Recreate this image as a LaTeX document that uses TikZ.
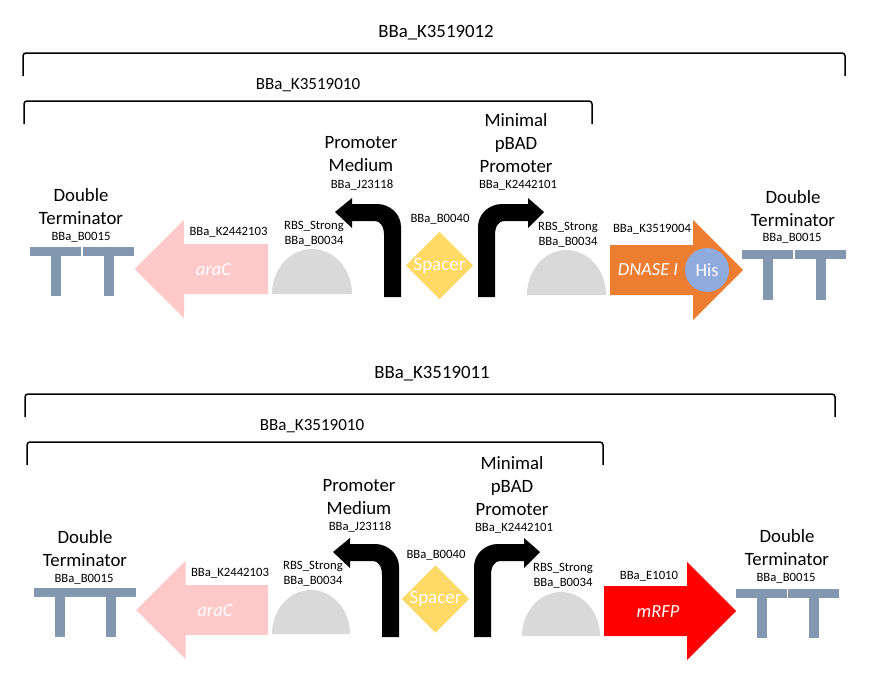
\documentclass[tikz,border=0pt]{standalone}
\usepackage{fontspec}
\setmainfont{Carlito}
\definecolor{termblue}{HTML}{8497B0}
\definecolor{pinkcds}{HTML}{FFC9C9}
\definecolor{rbsgrey}{HTML}{D9D9D9}
\definecolor{spaceryellow}{HTML}{FFD966}
\definecolor{dnaseorange}{HTML}{ED7D31}
\definecolor{hisblue}{HTML}{8FAADC}
\usetikzlibrary{shapes.geometric}
\tikzset{
  brace/.style={draw=black, line width=1.5pt, rounded corners=3pt},
  biglabel/.style={font=\fontsize{18.8}{23}\selectfont, align=center, inner sep=0pt},
  toplabel/.style={font=\fontsize{18.8}{20}\selectfont, inner sep=0pt},
  partlabel/.style={font=\fontsize{17}{20}\selectfont, inner sep=0pt},
  smalllabel/.style={font=\fontsize{12.7}{15}\selectfont, align=center, inner sep=0pt},
  cdslabel/.style={font=\fontsize{18.5}{20}\selectfont\itshape, text=white, inner sep=0pt},
  spacerbox/.style={diamond, aspect=1, fill=spaceryellow, inner sep=0pt, minimum size=67pt,
              text=white, font=\fontsize{19}{20}\selectfont},
}
\begin{document}
\begin{tikzpicture}[x=1pt,y=-1pt]
    \useasboundingbox (0,0) rectangle (871,688);
    % brackets
    \foreach \l/\r/\y in {23/845/53,24/592/101,25/835/394,27/603/442}
      \draw[brace] (\l,\y+23) -- (\l,\y) -- (\r,\y) -- (\r,\y+23);
    \node[toplabel] (topA) at (436,33) {BBa\_K3519012};
    \node[partlabel] (subA) at (308,85.5) {BBa\_K3519010};
    \node[toplabel] (topB) at (432,374) {BBa\_K3519011};
    \node[partlabel] (subB) at (312,426) {BBa\_K3519010};
    % terminators
    \foreach \x/\y/\h in {30/247/49,83/247/49,742/250/50,795/250/50,34/588/49,85/588/49,736/589/49,788/589/49} {
      \fill[termblue] (\x,\y) rectangle ++(51,9);
      \fill[termblue] (\x+20.5,\y) rectangle ++(10,\h);
    }
    \foreach \n/\x/\y in {a/81/206.5,b/793/208.5,c/85/549,d/787/548}
      \node[biglabel] (term\n) at (\x,\y) {Double\\Terminator};
    \foreach \n/\x/\y in {a/81/237.5,b/792/238.5,c/84/579.5,d/786/578.5}
      \node[smalllabel] (termid\n) at (\x,\y) {BBa\_B0015};
    % araC
    \foreach \n/\x/\y in {a/134.5/269,b/136/610} {
      \fill[pinkcds] (\x,\y) -- (\x+49.5,\y-49) -- (\x+49.5,\y-25) -- (268,\y-25) -- (268,\y+25)
        -- (\x+49.5,\y+25) -- (\x+49.5,\y+49) -- cycle;
      \node[cdslabel] (arac\n) at (\x+79,\y+1) {araC};
      \node[smalllabel] (aracid\n) at (\x+94,\y-37) {BBa\_K2442103};
    }
    % RBS
    \foreach \n/\x/\y/\w/\h/\t in {a/272/294/40/45/314,b/527/295/39.5/45/568,c/272/634/39/44/313,d/522/636/39/44/563} {
      \fill[rbsgrey] (\x,\y) arc[start angle=180,end angle=360,x radius=\w,y radius=\h] -- cycle;
      \node[smalllabel] (rbs\n) at (\t,\y-60.5) {RBS\_Strong\\BBa\_B0034};
    }
    % promoters
    \foreach \x/\y in {401/297,399/637}
      \fill[black] (\x,\y) -- (\x,\y-70) .. controls (\x,\y-83) and (\x-11,\y-93) .. (\x-24,\y-93) -- (\x-49,\y-93) -- (\x-49,\y-99)
        -- (\x-66,\y-85) -- (\x-49,\y-69) -- (\x-49,\y-76) -- (\x-26,\y-76) .. controls (\x-21,\y-76) and (\x-17,\y-71) .. (\x-17,\y-62) -- (\x-17,\y) -- cycle;
    \foreach \x/\y in {478/297,474/637}
      \fill[black] (\x,\y) -- (\x,\y-70) .. controls (\x,\y-83) and (\x+11,\y-93) .. (\x+24,\y-93) -- (\x+50,\y-93) -- (\x+50,\y-99)
        -- (\x+66,\y-85) -- (\x+50,\y-69) -- (\x+50,\y-76) -- (\x+26,\y-76) .. controls (\x+21,\y-76) and (\x+17,\y-71) .. (\x+17,\y-62) -- (\x+17,\y) -- cycle;
    \node[biglabel] (medA) at (361,154.5) {Promoter\\Medium};
    \node[smalllabel] (medidA) at (362,185) {BBa\_J23118};
    \node[biglabel] (minA) at (516,143) {Minimal\\pBAD\\Promoter};
    \node[smalllabel] (minidA) at (518,185) {BBa\_K2442101};
    \node[biglabel] (medB) at (359,497) {Promoter\\Medium};
    \node[smalllabel] (medidB) at (360,527) {BBa\_J23118};
    \node[biglabel] (minB) at (512,486) {Minimal\\pBAD\\Promoter};
    \node[smalllabel] (minidB) at (514,528) {BBa\_K2442101};
    % spacers
    \node[spacerbox] (spacerA) at (439.5,265.5) {Spacer};
    \node[smalllabel] (spaceridA) at (440,219.5) {BBa\_B0040};
    \node[spacerbox] (spacerB) at (435.5,599) {Spacer};
    \node[smalllabel] (spaceridB) at (436,555.5) {BBa\_B0040};
    % DNASE and mRFP
    \fill[dnaseorange] (610,245) -- (693,245) -- (693,220) -- (743,270) -- (693,320) -- (693,295) -- (610,295) -- cycle;
    \node[cdslabel] (dnase) at (648,270) {DNASE I};
    \node[smalllabel] (dnaseid) at (652,229.5) {BBa\_K3519004};
    \node[circle, fill=hisblue, minimum size=44pt, inner sep=0pt, text=white, font=\fontsize{18.5}{20}\selectfont] (his) at (707,270) {His};
    \fill[red] (604,586) -- (687,586) -- (687,562) -- (736,611) -- (687,660) -- (687,636) -- (604,636) -- cycle;
    \node[cdslabel] (mrfp) at (658,612) {mRFP};
    \node[smalllabel] (mrfpid) at (649,576.5) {BBa\_E1010};
\end{tikzpicture}
\end{document}
